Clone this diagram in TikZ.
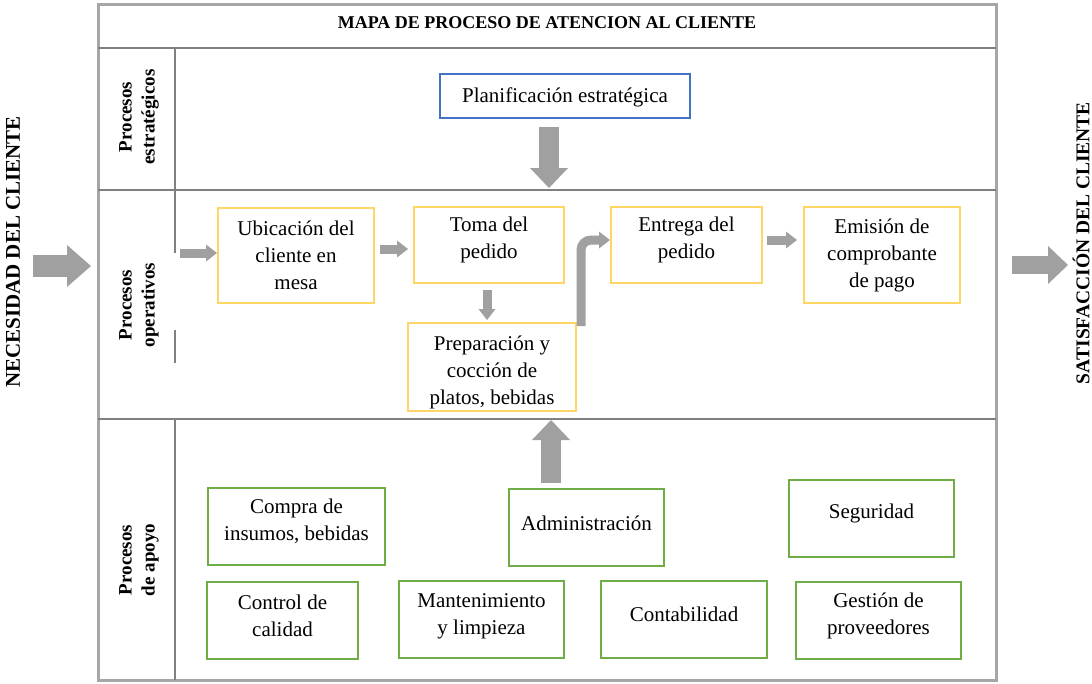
\documentclass[tikz,border=0pt]{standalone}
\usepackage{fontspec}
\setmainfont{Liberation Serif}
\usetikzlibrary{arrows.meta}
\definecolor{framegray}{RGB}{166,166,166}
\definecolor{rulegray}{RGB}{128,128,128}
\definecolor{ybord}{RGB}{255,214,102}
\definecolor{gbord}{RGB}{112,173,71}
\definecolor{bbord}{RGB}{68,114,196}
\definecolor{agray}{RGB}{160,160,160}
\begin{document}
\begin{tikzpicture}[x=1pt,y=-1pt,
  box/.style={draw, line width=2pt, fill=white, inner sep=0pt},
  ybox/.style={box, draw=ybord},
  gbox/.style={box, draw=gbord},
  bbox/.style={box, draw=bbord},
  txt/.style={inner sep=0pt, align=center, font=\fontsize{21}{27}\selectfont},
  lab/.style={inner sep=0pt, align=center, rotate=90, font=\bfseries\fontsize{19}{23}\selectfont},
  side/.style={inner sep=0pt, rotate=90, font=\bfseries\fontsize{21}{21}\selectfont},
  bigarrow/.style={draw=agray, line width=#1},
  tipbig/.style={-{Triangle[length=20pt 0 0, width=38pt 0 0, line width=0pt 0 0]}},
  tiphuge/.style={-{Triangle[length=24pt 0 0, width=42pt 0 0, line width=0pt 0 0]}},
  tipsmall/.style={-{Triangle[length=11pt 0 0, width=17pt 0 0, line width=0pt 0 0]}},
]
\useasboundingbox (0,0) rectangle (1092,683);

% frame and table lines
\draw[framegray, line width=3pt] (98.5,4.5) rectangle (996.5,680.5);
\draw[rulegray, line width=2.2pt] (98,48) -- (996,48);
\draw[rulegray, line width=2.2pt] (98,190) -- (996,190);
\draw[rulegray, line width=2.2pt] (98,419) -- (996,419);
\draw[rulegray, line width=1.6pt] (175,48) -- (175,253);
\draw[rulegray, line width=1.6pt] (175,330) -- (175,363);
\draw[rulegray, line width=1.6pt] (175,419) -- (175,680);

% title and row labels
\node[inner sep=0pt, font=\bfseries\fontsize{18}{18}\selectfont] (title) at (547,23) {MAPA DE PROCESO DE ATENCION AL CLIENTE};
\node[lab] (lstrat) at (139,117) {Procesos\\estratégicos};
\node[lab] (lop) at (139,305) {Procesos\\operativos};
\node[lab] (lapo) at (139,560) {Procesos\\de apoyo};

% side texts
\node[side] (need) at (13,252) {NECESIDAD DEL CLIENTE};
\node[side, font=\bfseries\fontsize{19.5}{19.5}\selectfont] (sat) at (1081,243) {SATISFACCIÓN DEL CLIENTE};

% strategic
\node[bbox, minimum width=250pt, minimum height=44pt] (plan) at (565,96) {};
\node[txt] (plant) at (565,97) {Planificación estratégica};

% operative
\node[ybox, minimum width=156pt, minimum height=95pt] (ubic) at (296,255.5) {};
\node[txt] (ubict) at (296,255) {Ubicación del\\cliente en\\mesa};
\node[ybox, minimum width=150pt, minimum height=76pt] (toma) at (489,245) {};
\node[txt] (tomat) at (489,240) {Toma del\\pedido};
\node[ybox, minimum width=151pt, minimum height=76pt] (entr) at (686.5,245) {};
\node[txt] (entrt) at (686.5,240) {Entrega del\\pedido};
\node[ybox, minimum width=156pt, minimum height=96pt] (emis) at (882,255) {};
\node[txt] (emist) at (882,255) {Emisión de\\comprobante\\de pago};
\node[ybox, minimum width=168pt, minimum height=88pt] (prep) at (492,367) {};
\node[txt] (prept) at (492,372) {Preparación y\\cocción de\\platos, bebidas};

% support
\node[gbox, minimum width=177pt, minimum height=77pt] (comp) at (296.5,526.5) {};
\node[txt] (compt) at (296.5,521) {Compra de\\insumos, bebidas};
\node[gbox, minimum width=155pt, minimum height=77pt] (admin) at (586.5,527.5) {};
\node[txt] (admint) at (586.5,523) {Administración};
\node[gbox, minimum width=165pt, minimum height=77pt] (seg) at (871.5,518.5) {};
\node[txt] (segt) at (871.5,513) {Seguridad};
\node[gbox, minimum width=151pt, minimum height=77pt] (ctrl) at (282.5,620.5) {};
\node[txt] (ctrlt) at (282.5,615.5) {Control de\\calidad};
\node[gbox, minimum width=165pt, minimum height=77pt] (mant) at (481.5,619.5) {};
\node[txt] (mantt) at (481.5,616.5) {Mantenimiento\\y limpieza};
\node[gbox, minimum width=166pt, minimum height=77pt] (cont) at (684,619.5) {};
\node[txt] (contt) at (684,614) {Contabilidad};
\node[gbox, minimum width=165pt, minimum height=77pt] (gest) at (878.5,620.5) {};
\node[txt] (gestt) at (878.5,616) {Gestión de\\proveedores};

% arrow end points
\coordinate (needA) at (33,266);
\coordinate (needB) at (91,266);
\coordinate (satA) at (1012,265);
\coordinate (satB) at (1068,265);
\coordinate (planA) at (549,127);
\coordinate (planB) at (549,188);
\coordinate (adminA) at (551,483);
\coordinate (adminB) at (551,420);
\coordinate (opIn) at (180,253);
\coordinate (ubicA) at (380,249);
\coordinate (tomaB) at (408,249);
\coordinate (tomaA) at (487,290);
\coordinate (prepB) at (487,320);
\coordinate (prepA) at (581,326);
\coordinate (bend) at (581,240);
\coordinate (entrB) at (610,240);
\coordinate (entrA) at (767,240);
\coordinate (emisB) at (797,240);

\draw[bigarrow=22pt, tiphuge] (needA) -- (needB);
\draw[bigarrow=18pt, tipbig] (satA) -- (satB);
\draw[bigarrow=20pt, tipbig] (planA) -- (planB);
\draw[bigarrow=20pt, tipbig] (adminA) -- (adminB);
\draw[bigarrow=9pt, tipsmall] (opIn) -- (opIn -| ubic.west);
\draw[bigarrow=9pt, tipsmall] (ubicA) -- (tomaB);
\draw[bigarrow=9pt, tipsmall] (tomaA) -- (prepB);
\draw[bigarrow=9pt, tipsmall, rounded corners=10pt] (prepA) -- (bend) -- (entrB);
\draw[bigarrow=9pt, tipsmall] (entrA) -- (emisB);
\end{tikzpicture}
\end{document}
